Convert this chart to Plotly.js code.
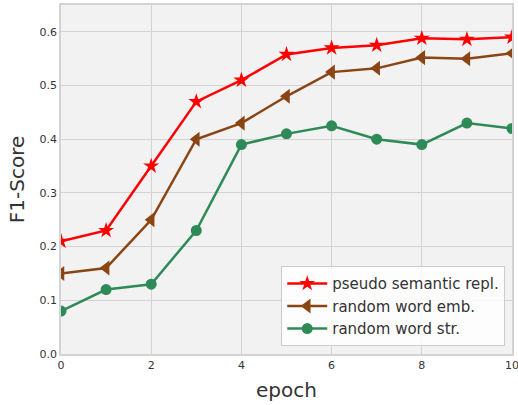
<!DOCTYPE html>
<html><head><meta charset="utf-8">
<script src="https://cdn.plot.ly/plotly-3.0.1.min.js"></script>
<style>html,body{margin:0;padding:0;background:#fff}</style>
</head><body>
<div id="chart" style="width:518px;height:405px"></div>
<script>
const epochs = [0,1,2,3,4,5,6,7,8,9,10];
const pseudoSemantic = [0.21,0.23,0.35,0.47,0.51,0.558,0.57,0.575,0.588,0.586,0.59];
const randomWordEmb = [0.15,0.16,0.25,0.40,0.43,0.48,0.525,0.532,0.552,0.55,0.56];
const randomWordStr = [0.08,0.12,0.13,0.23,0.39,0.41,0.425,0.40,0.39,0.43,0.42];
const seriesNames = ['pseudo semantic repl.','random word emb.','random word str.'];
const xTicks = [0,2,4,6,8,10];
const yTicks = [0,0.1,0.2,0.3,0.4,0.5,0.6];

const traces = [
  {x:epochs,y:pseudoSemantic,name:seriesNames[0],mode:'lines+markers',
   line:{color:'#ff0000',width:2.5},marker:{symbol:'star',size:12,color:'#ff0000'}},
  {x:epochs,y:randomWordEmb,name:seriesNames[1],mode:'lines+markers',
   line:{color:'#8b4513',width:2.5},marker:{symbol:'triangle-left',size:13,color:'#8b4513'}},
  {x:epochs,y:randomWordStr,name:seriesNames[2],mode:'lines+markers',
   line:{color:'#2e8b57',width:2.5},marker:{symbol:'circle',size:11,color:'#2e8b57'}}
];
const layout = {
  width:518,height:405,
  margin:{l:61,r:6,t:5,b:51},
  paper_bgcolor:'#ffffff',plot_bgcolor:'#f2f2f2',
  font:{family:'DejaVu Sans',color:'#333'},
  xaxis:{range:[0,10],tickvals:xTicks,ticktext:xTicks.map(String),showgrid:true,gridcolor:'#d3d3d3',gridwidth:1,
    zeroline:false,showline:true,linecolor:'#d3d3d3',mirror:true,linewidth:1.5,ticks:'',tickfont:{size:11,color:'#333'},
    ticklabeloverflow:'allow',automargin:false,
    title:{text:'epoch',font:{size:20,color:'#333'},standoff:12}},
  yaxis:{range:[0,0.65],tickvals:yTicks,ticktext:yTicks.map(v=>v.toFixed(1)),showgrid:true,gridcolor:'#d3d3d3',gridwidth:1,
    zeroline:false,showline:true,linecolor:'#d3d3d3',mirror:true,linewidth:1.5,ticks:'',tickfont:{size:11,color:'#333'},
    automargin:false,
    title:{text:'F1-Score',font:{size:20,color:'#333'},standoff:10}},
  legend:{x:0.985,y:0.022,xanchor:'right',yanchor:'bottom',bgcolor:'rgba(255,255,255,0.85)',bordercolor:'#cccccc',borderwidth:1,
    font:{size:15,color:'#333'},tracegroupgap:0,itemwidth:40},
  showlegend:true
};
Plotly.newPlot('chart',traces,layout,{displayModeBar:false});
</script>
</body></html>
